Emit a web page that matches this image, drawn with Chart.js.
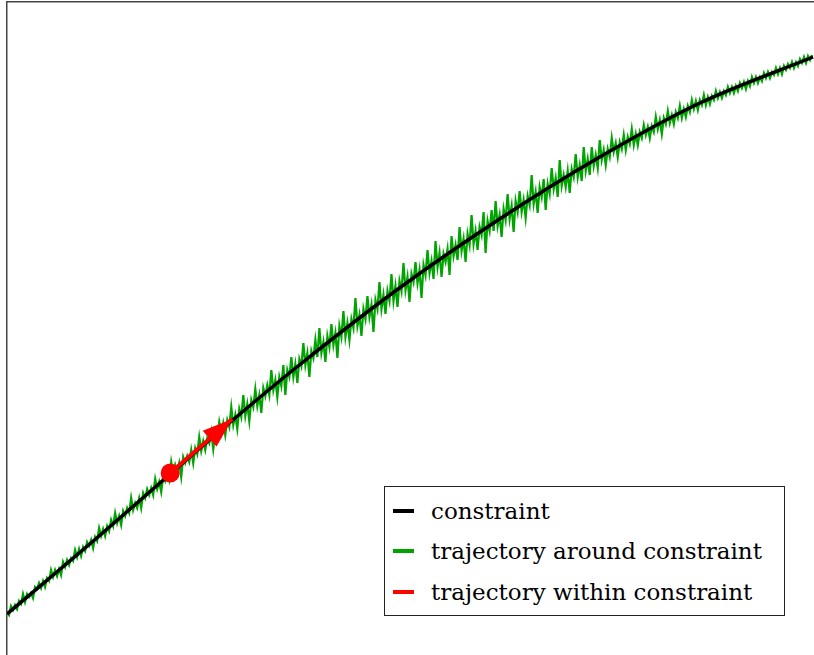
<!DOCTYPE html>
<html>
<head>
<meta charset="utf-8">
<title>trajectory around constraint</title>
<script src="https://cdn.jsdelivr.net/npm/chart.js@4.4.0/dist/chart.umd.min.js"></script>
<style>
  html, body { margin: 0; padding: 0; background: #fff; }
  #wrap { position: relative; width: 814px; height: 655px; }
  #legend {
    position: absolute; left: 384px; top: 486px; width: 399px; height: 128px;
    border: 1px solid #222; background: #fff;
    font-family: "DejaVu Serif", serif; font-size: 23px; color: #000;
  }
  #legend .row { position: absolute; left: 0; width: 100%; height: 40px; line-height: 40px; white-space: nowrap; }
  #legend .swatch { position: absolute; left: 8px; top: 18px; width: 21px; height: 4px; }
  #legend .lbl { position: absolute; left: 46px; top: 0; }
</style>
</head>
<body>
<div id="wrap">
  <canvas id="chart"></canvas>
  <div id="legend"></div>
</div>
<script>
// legend entries
var seriesNames = ["constraint", "trajectory around constraint", "trajectory within constraint"];
var seriesColors = ["#000000", "#00a400", "#ff0000"];

// constraint curve
var constraintX = [0, 92, 155, 222, 292, 392, 492, 592, 692, 805];
var constraintY = [41, 119, 174, 232, 290, 367, 436, 498, 552, 598];

// noisy trajectory, one value every 2 units of x
var trajY = [
  43, 40, 49, 45, 50, 46, 54, 51, 61, 53,
  61, 58, 62, 57, 68, 66, 72, 67, 74, 68,
  77, 74, 85, 78, 85, 79, 86, 80, 93, 88,
  95, 90, 97, 94, 105, 98, 106, 99, 108, 104,
  113, 109, 115, 107, 118, 114, 127, 119, 126, 119,
  129, 124, 135, 129, 142, 132, 139, 130, 144, 139,
  147, 142, 157, 145, 152, 147, 157, 147, 162, 157,
  166, 160, 167, 160, 176, 166, 173, 163, 179, 174,
  182, 175, 193, 181, 190, 183, 192, 178, 198, 192,
  199, 193, 205, 192, 207, 201, 218, 204, 214, 205,
  217, 212, 223, 206, 223, 217, 233, 222, 232, 220,
  235, 228, 248, 230, 240, 226, 246, 238, 260, 239,
  251, 234, 255, 248, 266, 249, 260, 242, 267, 259,
  270, 260, 285, 265, 275, 258, 278, 269, 290, 260,
  285, 278, 298, 278, 291, 272, 296, 289, 312, 290,
  302, 278, 304, 297, 315, 298, 327, 302, 313, 293,
  319, 308, 331, 310, 322, 297, 329, 318, 344, 318,
  332, 315, 336, 327, 357, 329, 340, 319, 346, 336,
  359, 338, 350, 323, 355, 346, 373, 346, 360, 341,
  364, 354, 381, 354, 369, 348, 374, 364, 392, 365,
  378, 353, 381, 373, 393, 372, 385, 357, 390, 380,
  405, 382, 394, 376, 414, 388, 402, 378, 401, 393,
  406, 380, 419, 399, 410, 395, 428, 404, 416, 393,
  421, 410, 440, 411, 424, 405, 428, 420, 443, 402,
  434, 424, 445, 424, 454, 429, 440, 418, 446, 435,
  461, 436, 449, 423, 454, 443, 464, 443, 455, 437,
  459, 450, 480, 451, 463, 442, 468, 458, 476, 445,
  471, 461, 487, 466, 477, 458, 495, 469, 480, 468,
  484, 462, 486, 478, 501, 478, 490, 474, 508, 484,
  496, 480, 508, 489, 500, 487, 515, 495, 505, 490,
  506, 498, 517, 503, 512, 498, 513, 506, 520, 505,
  518, 511, 526, 510, 521, 510, 523, 517, 530, 520,
  528, 517, 529, 523, 538, 526, 535, 521, 537, 531,
  544, 532, 540, 531, 543, 537, 549, 537, 546, 538,
  549, 543, 555, 546, 554, 545, 555, 550, 560, 550,
  558, 551, 559, 555, 564, 557, 563, 557, 564, 560,
  568, 562, 568, 562, 569, 564, 572, 567, 573, 566,
  574, 569, 578, 572, 578, 572, 578, 574, 582, 577,
  583, 577, 583, 580, 587, 581, 587, 581, 589, 585,
  591, 587, 593, 587, 593, 589, 596, 592, 598, 592,
  599, 595, 600
];
var trajStep = 2;

// red arrow: start point (dot) and tip
var arrowX = [163, 225];
var arrowY = [182, 236];

var xMax = 806;
var yMax = 653;

function toPoints(xs, ys) {
    return ys.map(function(y, i) { return { x: xs[i], y: y }; });
}

var trajX = trajY.map(function(_, i) { return i * trajStep; });

// draws the arrow head at the last point of the red dataset
const arrowHead = {
    id: 'arrowHead',
    afterDatasetsDraw(chart) {
        var pts = chart.getDatasetMeta(2).data;
        var a = pts[pts.length - 2], b = pts[pts.length - 1];
        var ang = Math.atan2(b.y - a.y, b.x - a.x);
        var len = 30, half = 10.5;
        var bx = b.x - len * Math.cos(ang), by = b.y - len * Math.sin(ang);
        var ctx = chart.ctx;
        ctx.save();
        ctx.fillStyle = seriesColors[2];
        ctx.beginPath();
        ctx.moveTo(b.x, b.y);
        ctx.lineTo(bx + half * Math.sin(ang), by - half * Math.cos(ang));
        ctx.lineTo(bx - half * Math.sin(ang), by + half * Math.cos(ang));
        ctx.closePath();
        ctx.fill();
        ctx.restore();
    }
};

var ctx = document.getElementById("chart").getContext("2d");
var chart = new Chart(ctx, {
    type: "line",
    data: {
        datasets: [
            {
                label: seriesNames[0],
                data: toPoints(constraintX, constraintY),
                borderColor: seriesColors[0],
                borderWidth: 3.5,
                pointRadius: 0,
                cubicInterpolationMode: "monotone",
                order: 1
            },
            {
                label: seriesNames[1],
                data: toPoints(trajX, trajY),
                borderColor: seriesColors[1],
                borderWidth: 2.2,
                pointRadius: 0,
                tension: 0,
                order: 2
            },
            {
                label: seriesNames[2],
                data: toPoints(arrowX, arrowY),
                borderColor: seriesColors[2],
                backgroundColor: seriesColors[2],
                borderWidth: 4,
                pointRadius: [9.5, 0],
                pointBorderWidth: 0,
                tension: 0,
                order: 0
            }
        ]
    },
    options: {
        responsive: true,
        maintainAspectRatio: false,
        animation: false,
        layout: { autoPadding: false, padding: { left: 7, top: 2, right: 0, bottom: 0 } },
        plugins: {
            legend: { display: false },
            tooltip: { enabled: false }
        },
        scales: {
            x: {
                type: "linear",
                position: "top",
                min: 0,
                max: xMax,
                grid: { display: false, drawTicks: false },
                ticks: { display: false },
                border: { display: true, color: "#444", width: 1.5 }
            },
            y: {
                type: "linear",
                position: "left",
                min: 0,
                max: yMax,
                grid: { display: false, drawTicks: false },
                ticks: { display: false },
                border: { display: true, color: "#444", width: 1.5 }
            }
        }
    },
    plugins: [arrowHead]
});

// html legend
var legend = document.getElementById("legend");
var rowTops = [4, 44, 85];
seriesNames.forEach(function(name, i) {
    var row = document.createElement("div");
    row.className = "row";
    row.style.top = rowTops[i] + "px";
    row.innerHTML = '<span class="swatch" style="background:' + seriesColors[i] + '"></span><span class="lbl">' + name + '</span>';
    legend.appendChild(row);
});
</script>
</body>
</html>
